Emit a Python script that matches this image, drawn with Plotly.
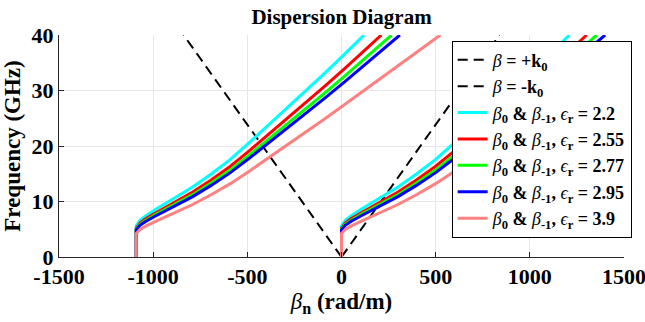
import plotly.graph_objects as go

# ---------------- data ----------------
K_shift = 1090  # beta_0 - beta_-1  (2*pi/p, rad/m)

freq_k0 = [0, 40]          # GHz
k0_vals = [0, 838.4]       # rad/m

eps_labels = ["2.2", "2.55", "2.77", "2.95", "3.9"]
colors = ["#00FFFF", "#FF0000", "#00FF00", "#0000FF", "#FF8080"]

# beta_0 branch (rad/m) vs frequency (GHz) for each eps_r
f_22 = [0, 5.6, 6.6, 7.4, 8.5, 10.5, 12.6, 15.0, 17.6, 20.6, 23.7, 26.8, 29.9, 33.1, 36.5, 40.0]
b_22 = [0, 0, 20, 50, 100, 200, 300, 400, 500, 600, 700, 800, 900, 1000, 1105, 1210]

f_255 = [0, 5.20, 6.13, 6.87, 7.89, 9.75, 11.70, 13.93, 16.35, 19.13, 22.01, 24.89, 27.77, 30.74, 33.90, 37.15, 40.0]
b_255 = [0, 0, 20, 50, 100, 200, 300, 400, 500, 600, 700, 800, 900, 1000, 1105, 1210, 1302]

f_277 = [0, 4.99, 5.88, 6.59, 7.58, 9.36, 11.23, 13.37, 15.69, 18.36, 21.12, 23.88, 26.65, 29.50, 32.53, 35.65, 40.0]
b_277 = [0, 0, 20, 50, 100, 200, 300, 400, 500, 600, 700, 800, 900, 1000, 1105, 1210, 1356]

f_295 = [0, 4.84, 5.70, 6.39, 7.34, 9.07, 10.88, 12.95, 15.20, 17.79, 20.47, 23.14, 25.82, 28.59, 31.52, 34.54, 40.0]
b_295 = [0, 0, 20, 50, 100, 200, 300, 400, 500, 600, 700, 800, 900, 1000, 1105, 1210, 1400]

f_39 = [0, 4.21, 4.96, 5.56, 6.38, 7.89, 9.46, 11.27, 13.22, 15.47, 17.80, 20.13, 22.46, 24.86, 27.42, 30.04, 34.78, 40.0]
b_39 = [0, 0, 20, 50, 100, 200, 300, 400, 500, 600, 700, 800, 900, 1000, 1105, 1210, 1400, 1615]

series_f = [f_22, f_255, f_277, f_295, f_39]
series_b = [b_22, b_255, b_277, b_295, b_39]

x_tickvals = [-1500, -1000, -500, 0, 500, 1000, 1500]
x_ticktext = ["-1500", "-1000", "-500", "0", "500", "1000", "1500"]
y_tickvals = [0, 10, 20, 30, 40]
y_ticktext = ["0", "10", "20", "30", "40"]

# ---------------- figure ----------------
FONT = "Liberation Serif"
fig = go.Figure()

fig.add_trace(go.Scatter(
    x=k0_vals, y=freq_k0, mode="lines", legendgroup="g1",
    line=dict(color="black", width=2, dash="10px,6px"),
    name="<i>β</i><b> = +k<sub>0</sub></b>"))
fig.add_trace(go.Scatter(
    x=[-v for v in k0_vals], y=freq_k0, mode="lines", legendgroup="g2",
    line=dict(color="black", width=2, dash="10px,6px"),
    name="<i>β</i><b> = -k<sub>0</sub></b>"))

for i, (lab, col, ff, bb) in enumerate(zip(eps_labels, colors, series_f, series_b)):
    xs = [b - K_shift for b in bb] + [None] + list(bb)
    ys = list(ff) + [None] + list(ff)
    fig.add_trace(go.Scatter(
        x=xs, y=ys, mode="lines", legendgroup="s%d" % i,
        line=dict(color=col, width=3),
        name=("<i>β</i><sub><b>0</b></sub><b> & </b><i>β</i><sub><b>-1</b></sub>"
              "<b>, </b><i>ϵ</i><sub><b>r</b></sub><b> = " + lab + "</b>")))

fig.update_layout(
    width=645, height=322,
    margin=dict(l=59, r=21, t=35, b=65, autoexpand=False),
    paper_bgcolor="white", plot_bgcolor="white",
    font=dict(family=FONT, color="black"),
    title=dict(text="<b>Dispersion Diagram</b>", x=0.5, xref="paper",
               y=1 - 17 / 322, yref="container", yanchor="middle",
               font=dict(family=FONT, size=21, color="black")),
    legend=dict(x=0.695, y=0.975, xanchor="left", yanchor="top",
                bgcolor="white", bordercolor="black", borderwidth=1,
                font=dict(family=FONT, size=18, color="black"),
                itemwidth=30, tracegroupgap=5, traceorder="normal"),
    showlegend=True,
)

fig.update_xaxes(
    range=[-1500, 1500], tickvals=x_tickvals, ticktext=x_ticktext,
    ticks="inside", ticklen=5, tickcolor="#262626",
    showline=True, linecolor="#262626", linewidth=1, mirror=False,
    showgrid=True, gridcolor="#e6e6e6", gridwidth=1, zeroline=False,
    ticklabeloverflow="allow",
    tickfont=dict(family=FONT, size=22, weight="bold", color="black"),
    title=dict(text="<i>β</i><sub><b>n</b></sub><b> (rad/m)</b>",
               font=dict(family=FONT, size=23, color="black"), standoff=4),
)
fig.update_yaxes(
    range=[0, 40], tickvals=y_tickvals, ticktext=y_ticktext,
    ticks="inside", ticklen=5, tickcolor="#262626",
    showline=True, linecolor="#262626", linewidth=1, mirror=False,
    showgrid=True, gridcolor="#e6e6e6", gridwidth=1, zeroline=False,
    tickfont=dict(family=FONT, size=22, weight="bold", color="black"),
    title=dict(text="<b>Frequency (GHz)</b>",
               font=dict(family=FONT, size=23, color="black"), standoff=4),
)

fig.write_html("out.html", config={"displayModeBar": False},
               post_script="document.body.style.margin='0px';")
